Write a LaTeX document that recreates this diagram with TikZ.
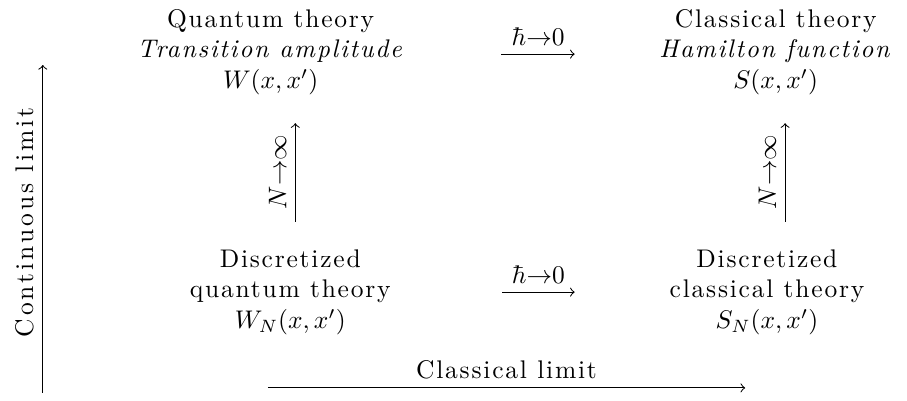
\documentclass[tikz,border=0pt]{standalone}
\usepackage{fontspec}
\usepackage{amsmath}
\usepackage{amssymb}
\usetikzlibrary{positioning,calc}
\setmainfont{lmroman10-regular.otf}[ItalicFont=lmroman10-italic.otf, BoldFont=lmroman10-bold.otf]

\begin{document}
\begin{tikzpicture}[
  font=\addfontfeatures{LetterSpace=7},
  caja/.style={align=center, inner sep=3pt},
  flecha/.style={->, thin},
  rotulo/.style={rotate=90, anchor=south},
]
\useasboundingbox (0,0) rectangle (12.50,5.526);

% ---- Teorias continuas ----
\node[caja] (qt) at (3.73,4.81)
     {Quantum theory\\\textit{Transition amplitude}\\$W(x,x')$};
\node[caja] (ct) at (10.69,4.81)
     {Classical theory\\\textit{Hamilton function}\\$S(x,x')$};

% ---- Teorias discretas ----
\node[caja] (dq) at (4.00,1.50)
     {Discretized\\quantum theory\\$W_N(x,x')$};
\node[caja] (dc) at (10.57,1.50)
     {Discretized\\classical theory\\$S_N(x,x')$};

% ---- Limite clasico ----
\draw[flecha] ($(qt)+(3.18,-0.03)$) -- ($(ct)+(-2.77,-0.03)$)
     node[midway, above] {$\hbar{\to}0$};
\draw[flecha] ($(dq)+(2.92,0)$) -- ($(dc)+(-2.65,0)$)
     node[midway, above] {$\hbar{\to}0$};

% ---- Limite continuo ----
\draw[flecha, shorten <=0.27cm, shorten >=0.28cm]
     ([xshift=0.07cm]dq.north) -- ([xshift=0.07cm]dq.north |- qt.south)
     node[midway, rotulo] {$N{\to}\infty$};
\draw[flecha, shorten <=0.27cm, shorten >=0.28cm]
     ([xshift=0.25cm]dc.north) -- ([xshift=0.25cm]dc.north |- ct.south)
     node[midway, rotulo] {$N{\to}\infty$};

% ---- Ejes ----
\coordinate (cont0) at (0.59,0.11);
\coordinate (cont1) at (0.59,4.63);
\coordinate (clas0) at (3.69,0.18);
\coordinate (clas1) at (10.27,0.18);
\draw[flecha] (cont0) -- (cont1)
     node[pos=0.52, rotulo, font=\addfontfeatures{LetterSpace=12}] {Continuous limit};
\draw[flecha] (clas0) -- (clas1) node[midway, above] {Classical limit};

\end{tikzpicture}
\end{document}
